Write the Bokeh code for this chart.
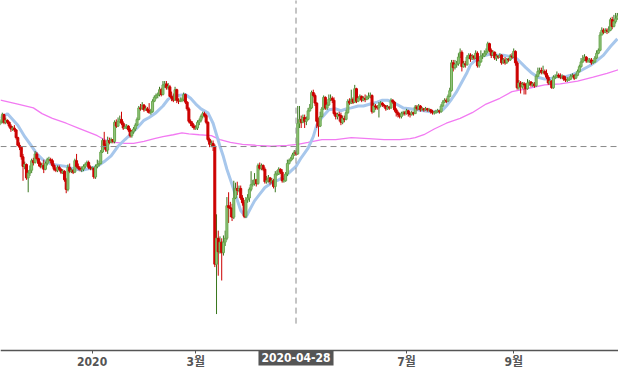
import pandas as pd
from bokeh.plotting import figure
from bokeh.models import Range1d, FixedTicker, Span, Label, ColumnDataSource
from bokeh.embed import file_html
from bokeh.resources import INLINE

# ---------------- data (daily candles, one per calendar day) ----------------
start_date = "2019-11-09"
first_open = 372

closes = [374, 381, 373, 375, 373, 369, 366, 367, 365, 357,
          349, 347, 337, 327, 329, 315, 320, 323, 333, 331,
          340, 335, 330, 327, 328, 324, 330, 334, 334, 333,
          328, 324, 323, 326, 324, 321, 322, 313, 303, 326,
          322, 323, 321, 333, 327, 325, 324, 324, 327, 329,
          331, 326, 325, 325, 316, 327, 329, 330, 342, 354,
          349, 344, 354, 352, 355, 353, 373, 369, 374, 376,
          372, 367, 368, 369, 365, 359, 363, 366, 370, 376,
          388, 387, 391, 386, 387, 385, 383, 384, 395, 399,
          401, 402, 407, 402, 412, 413, 409, 410, 400, 398,
          396, 407, 396, 395, 396, 397, 402, 394, 387, 374,
          372, 369, 367, 367, 373, 375, 379, 382, 380, 373,
          355, 350, 351, 348, 225, 252, 238, 248, 237, 248,
          252, 286, 284, 283, 274, 294, 304, 302, 304, 294,
          289, 275, 292, 294, 303, 308, 309, 313, 309, 328,
          325, 328, 324, 311, 312, 315, 311, 312, 306, 319,
          319, 324, 321, 312, 312, 319, 330, 333, 335, 339,
          342, 340, 372, 376, 373, 378, 374, 376, 385, 388,
          404, 401, 393, 374, 369, 379, 387, 399, 388, 391,
          397, 398, 396, 382, 379, 381, 380, 373, 377, 376,
          383, 395, 393, 397, 394, 408, 395, 398, 400, 396,
          398, 397, 399, 400, 401, 384, 390, 389, 388, 391,
          393, 391, 390, 387, 389, 388, 396, 394, 386, 383,
          381, 379, 382, 383, 382, 385, 382, 381, 383, 382,
          389, 387, 390, 386, 387, 386, 387, 386, 386, 384,
          383, 383, 384, 385, 384, 390, 394, 396, 395, 400,
          406, 435, 430, 433, 434, 441, 446, 431, 434, 433,
          441, 443, 439, 442, 440, 445, 432, 436, 442, 442,
          445, 447, 455, 448, 443, 446, 440, 442, 441, 443,
          435, 438, 435, 439, 438, 442, 441, 447, 435, 409,
          414, 410, 413, 412, 408, 414, 415, 412, 413, 411,
          421, 426, 427, 425, 426, 424, 420, 414, 416, 409,
          420, 420, 422, 421, 420, 421, 418, 417, 417, 418,
          421, 422, 419, 422, 426, 431, 436, 438, 441, 437,
          437, 438, 435, 436, 440, 445, 448, 464, 469, 467,
          469, 468, 469, 480, 473, 478, 481, 484]

highs = [376, 383, 382, 378, 376, 374, 371, 369, 370, 366,
         358, 352, 348, 340, 332, 330, 323, 328, 335, 336,
         343, 342, 336, 332, 331, 334, 332, 336, 337, 336,
         335, 330, 326, 328, 328, 325, 324, 323, 315, 329,
         330, 325, 324, 335, 340, 330, 327, 327, 329, 331,
         333, 333, 328, 327, 326, 329, 334, 333, 344, 356,
         363, 351, 358, 357, 357, 355, 375, 376, 378, 380,
         384, 374, 371, 371, 370, 367, 365, 368, 372, 378,
         390, 392, 394, 392, 390, 389, 393, 387, 397, 401,
         403, 404, 410, 409, 416, 416, 416, 414, 412, 405,
         403, 410, 408, 398, 399, 399, 404, 403, 395, 389,
         376, 374, 371, 370, 375, 377, 381, 384, 384, 382,
         374, 357, 354, 354, 350, 277, 260, 254, 252, 255,
         260, 295, 300, 290, 288, 312, 310, 311, 307, 307,
         297, 292, 295, 298, 305, 322, 313, 320, 314, 330,
         331, 330, 329, 326, 317, 318, 316, 315, 314, 322,
         323, 326, 325, 324, 315, 321, 334, 335, 337, 341,
         344, 344, 390, 390, 380, 381, 381, 379, 388, 392,
         406, 407, 403, 394, 378, 384, 389, 401, 400, 394,
         402, 402, 400, 399, 384, 383, 384, 383, 380, 380,
         386, 397, 398, 407, 399, 412, 409, 400, 402, 401,
         400, 402, 401, 404, 404, 402, 393, 392, 391, 394,
         395, 394, 392, 391, 391, 390, 398, 397, 395, 388,
         385, 383, 384, 385, 385, 387, 386, 384, 385, 384,
         391, 391, 392, 391, 389, 388, 389, 388, 388, 387,
         386, 385, 386, 387, 386, 392, 396, 398, 398, 402,
         409, 438, 438, 438, 437, 445, 450, 448, 437, 437,
         443, 445, 445, 444, 443, 448, 447, 438, 448, 445,
         448, 450, 457, 456, 450, 448, 447, 444, 443, 445,
         444, 440, 441, 440, 440, 444, 445, 450, 448, 437,
         417, 416, 415, 415, 414, 418, 417, 416, 415, 415,
         423, 430, 430, 430, 432, 428, 428, 422, 418, 417,
         422, 423, 426, 424, 424, 423, 422, 421, 420, 420,
         423, 424, 423, 424, 428, 433, 440, 443, 444, 442,
         440, 440, 440, 438, 442, 448, 450, 467, 472, 471,
         471, 471, 473, 482, 483, 485, 487, 487]

lows = [370, 372, 371, 371, 371, 367, 363, 364, 363, 355,
        348, 344, 334, 312, 324, 313, 300, 317, 320, 328,
        330, 333, 327, 325, 325, 320, 323, 328, 331, 330,
        326, 322, 321, 321, 322, 319, 319, 311, 299, 301,
        320, 320, 319, 320, 325, 323, 322, 321, 322, 325,
        327, 324, 323, 323, 314, 314, 325, 327, 329, 341,
        345, 342, 340, 350, 351, 351, 351, 367, 368, 372,
        370, 365, 366, 366, 363, 357, 357, 361, 364, 369,
        375, 385, 386, 384, 385, 383, 382, 381, 383, 394,
        397, 398, 400, 400, 401, 409, 407, 407, 399, 395,
        394, 396, 393, 392, 394, 394, 395, 392, 385, 372,
        369, 367, 365, 365, 365, 370, 373, 377, 378, 371,
        353, 347, 347, 343, 222, 173, 213, 236, 208, 234,
        244, 250, 268, 274, 270, 272, 293, 297, 300, 292,
        286, 273, 273, 289, 290, 301, 306, 307, 306, 308,
        323, 323, 322, 309, 309, 310, 308, 309, 304, 300,
        317, 318, 319, 310, 310, 311, 317, 329, 332, 334,
        338, 338, 339, 367, 367, 372, 367, 370, 375, 384,
        387, 399, 390, 367, 358, 368, 378, 386, 386, 386,
        390, 395, 393, 380, 376, 376, 374, 370, 371, 373,
        375, 382, 391, 392, 392, 393, 393, 394, 396, 394,
        395, 394, 396, 397, 398, 382, 383, 386, 386, 378,
        389, 389, 388, 385, 386, 386, 387, 392, 384, 379,
        378, 377, 377, 380, 380, 381, 379, 378, 380, 380,
        382, 385, 386, 384, 385, 384, 385, 384, 384, 382,
        381, 381, 382, 383, 382, 383, 389, 393, 393, 394,
        399, 405, 426, 428, 430, 432, 440, 426, 430, 430,
        432, 439, 436, 438, 438, 439, 430, 430, 435, 439,
        441, 443, 445, 446, 440, 442, 438, 437, 439, 440,
        433, 434, 433, 434, 436, 437, 439, 440, 432, 407,
        407, 403, 408, 402, 402, 407, 411, 410, 410, 409,
        410, 420, 423, 423, 423, 422, 418, 412, 412, 408,
        408, 418, 419, 419, 418, 418, 416, 415, 415, 416,
        417, 420, 417, 418, 421, 425, 430, 435, 437, 435,
        435, 435, 433, 434, 435, 439, 444, 447, 464, 465,
        466, 465, 466, 468, 470, 472, 476, 480]

ma_short_dates = [
    "2019-11-09", "2019-11-13", "2019-11-19", "2019-11-23", "2019-11-27", "2019-11-30",
    "2019-12-04", "2019-12-09", "2019-12-13", "2019-12-17", "2019-12-20", "2019-12-26",
    "2019-12-31", "2020-01-04", "2020-01-08", "2020-01-12", "2020-01-16", "2020-01-20",
    "2020-01-23", "2020-01-27", "2020-01-31", "2020-02-03", "2020-02-07", "2020-02-11",
    "2020-02-14", "2020-02-17", "2020-02-20", "2020-02-24", "2020-02-27", "2020-03-01",
    "2020-03-04", "2020-03-08", "2020-03-11", "2020-03-15", "2020-03-17", "2020-03-19",
    "2020-03-22", "2020-03-25", "2020-03-27", "2020-03-30", "2020-04-01", "2020-04-04",
    "2020-04-07", "2020-04-10", "2020-04-14", "2020-04-18", "2020-04-22", "2020-04-25",
    "2020-04-28", "2020-05-01", "2020-05-05", "2020-05-08", "2020-05-10", "2020-05-13",
    "2020-05-17", "2020-05-21", "2020-05-24", "2020-05-27", "2020-05-30", "2020-06-03",
    "2020-06-06", "2020-06-10", "2020-06-14", "2020-06-17", "2020-06-20", "2020-06-23",
    "2020-06-26", "2020-06-29", "2020-07-03", "2020-07-07", "2020-07-11", "2020-07-15",
    "2020-07-19", "2020-07-22", "2020-07-24", "2020-07-27", "2020-07-30", "2020-08-02",
    "2020-08-05", "2020-08-07", "2020-08-10", "2020-08-14", "2020-08-18", "2020-08-22",
    "2020-08-26", "2020-08-29", "2020-09-03", "2020-09-08", "2020-09-11", "2020-09-15",
    "2020-09-19", "2020-09-23", "2020-09-27", "2020-09-30", "2020-10-04", "2020-10-08",
    "2020-10-11", "2020-10-15", "2020-10-19", "2020-10-23", "2020-10-27", "2020-10-31"]
ma_short = [
    377, 382, 370, 358, 348, 340,
    333, 329, 328, 327, 325, 323,
    325, 327, 332, 338, 348, 355,
    360, 367, 375, 378, 383, 390,
    397, 400, 401, 402, 398, 392,
    387, 383, 372, 348, 337, 324,
    308, 292, 281, 274, 281, 291,
    298, 305, 310, 313, 317, 322,
    327, 336, 346, 358, 370, 378,
    386, 387, 385, 387, 388, 390,
    390, 392, 394, 396, 396, 394,
    391, 388, 387, 386, 385, 384,
    384, 386, 390, 397, 405, 415,
    425, 433, 438, 442, 444, 443,
    443, 442, 439, 430, 425, 420,
    418, 419, 421, 420, 422, 425,
    428, 432, 437, 443, 452, 460]

ma_long_dates = [
    "2019-11-09", "2019-11-19", "2019-11-28", "2019-12-03", "2019-12-09", "2019-12-17",
    "2019-12-24", "2019-12-31", "2020-01-04", "2020-01-08", "2020-01-14", "2020-01-20",
    "2020-01-25", "2020-01-31", "2020-02-06", "2020-02-11", "2020-02-17", "2020-02-22",
    "2020-02-26", "2020-03-03", "2020-03-10", "2020-03-15", "2020-03-21", "2020-03-28",
    "2020-04-05", "2020-04-14", "2020-04-23", "2020-04-29", "2020-05-05", "2020-05-13",
    "2020-05-21", "2020-05-30", "2020-06-09", "2020-06-18", "2020-06-27", "2020-07-03",
    "2020-07-06", "2020-07-11", "2020-07-17", "2020-07-24", "2020-08-01", "2020-08-08",
    "2020-08-16", "2020-08-24", "2020-08-31", "2020-09-06", "2020-09-11", "2020-09-19",
    "2020-09-28", "2020-10-08", "2020-10-17", "2020-10-25", "2020-11-01"]
ma_long = [
    396, 392, 388, 382, 377, 372,
    367, 362, 359, 355, 352, 351,
    351, 353, 356, 358, 360, 362,
    361, 360, 359, 355, 352, 350,
    349, 348, 349, 350, 352, 355,
    355, 357, 356, 355, 355, 356,
    357, 360, 366, 372, 377, 383,
    392, 398, 405, 407, 409, 412,
    413, 416, 420, 424, 428]

# month ticks (the May tick sits under the crosshair date badge, so it is not shown)
tick_dates = ["2020-01-01", "2020-03-01", "2020-07-01", "2020-09-01", "2020-11-01"]
tick_labels = ["2020", "3월", "7월", "9월", "11월"]

cross_date = "2020-04-28"
cross_label = "2020-04-28"
cross_price = 347.7
cross_v_low = 163
cross_v_high = 520

# ---------------- layout / styling ----------------
UP_FILL, UP_EDGE, UP_WICK = "#93c47d", "#6aa84f", "#38761d"
DN_FILL, DN_EDGE, DN_WICK = "#cc0000", "#cc0000", "#cc0000"
FONT = "'Liberation Sans Narrow', 'Arial Narrow', 'DejaVu Sans Condensed', 'Noto Sans CJK KR', sans-serif"

W, H = 618, 373
VIEW_PX_W = 634          # chart width the x range spans
PX_PER_DAY = 1.7725      # calendar-day spacing of the time axis
JAN1_PX = 94             # where 2020-01-01 sits across VIEW_PX_W
Y_TOP, Y_BOTTOM = 500, 111   # value range spanning the full figure height
AXIS_AT = 135            # value where the time axis is drawn


def ms(d):
    return pd.Timestamp(d).value / 1e6


DAY_MS = 24 * 3600 * 1000

dates = pd.date_range(start_date, periods=len(closes), freq="D")
opens = [first_open] + closes[:-1]
up = [c >= o for o, c in zip(opens, closes)]

src = ColumnDataSource(dict(
    date=dates,
    high=highs, low=lows,
    top=[max(o, c) for o, c in zip(opens, closes)],
    bottom=[min(o, c) for o, c in zip(opens, closes)],
    fill=[UP_FILL if u else DN_FILL for u in up],
    edge=[UP_EDGE if u else DN_EDGE for u in up],
    wick=[UP_WICK if u else DN_WICK for u in up],
))

x_start = ms("2020-01-01") - JAN1_PX / PX_PER_DAY * DAY_MS
x_end = x_start + VIEW_PX_W / PX_PER_DAY * DAY_MS

p = figure(width=W, height=H, x_axis_type="datetime",
           output_backend="svg", toolbar_location=None,
           x_range=Range1d(x_start, x_end), y_range=Range1d(Y_BOTTOM, Y_TOP),
           min_border_left=0, min_border_right=0, min_border_top=0,
           min_border_bottom=0)

p.background_fill_color = "white"
p.border_fill_color = "white"
p.outline_line_color = None
p.xgrid.visible = False
p.ygrid.visible = False
p.yaxis.visible = False

# moving averages
p.line(x=pd.to_datetime(ma_long_dates), y=ma_long, line_color="#f27af2", line_width=1.3)
p.line(x=pd.to_datetime(ma_short_dates), y=ma_short, line_color="#a7c7ec", line_width=3)

# candles
p.segment(x0="date", y0="low", x1="date", y1="high", line_color="wick", line_width=1, source=src)
p.vbar(x="date", width=1.15 * DAY_MS, top="top", bottom="bottom",
       fill_color="fill", line_color="edge", line_width=1, source=src)

# crosshair
p.add_layout(Span(location=cross_price, dimension="width", line_color="#8a8a8a",
                  line_dash="6 4", line_width=1))
p.segment(x0=[ms(cross_date)], y0=[cross_v_low], x1=[ms(cross_date)], y1=[cross_v_high],
          line_color="#8a8a8a", line_dash="6 4", line_width=1)

# time axis, pinned inside the frame
ax = p.xaxis[0]
ax.fixed_location = AXIS_AT
tick_ms = [ms(d) for d in tick_dates]
ax.ticker = FixedTicker(ticks=tick_ms)
ax.major_label_overrides = {t: lab for t, lab in zip(tick_ms, tick_labels)}
ax.minor_tick_line_color = None
ax.major_tick_in = 0
ax.major_tick_out = 3
ax.major_tick_line_color = "#555555"
ax.axis_line_color = "#555555"
ax.axis_line_width = 1.5
ax.major_label_standoff = 2
ax.major_label_text_color = "#555555"
ax.major_label_text_font = FONT
ax.major_label_text_font_style = "bold"
ax.major_label_text_font_size = "12px"

p.add_layout(Label(x=ms(cross_date), y=AXIS_AT, x_units="data", y_units="data",
                   text=cross_label, text_align="center", text_baseline="top",
                   text_color="white", text_font=FONT, text_font_style="bold",
                   text_font_size="12px", background_fill_color="#555555",
                   padding=3, level="overlay"))

open("out.html", "w").write(file_html(p, INLINE))
